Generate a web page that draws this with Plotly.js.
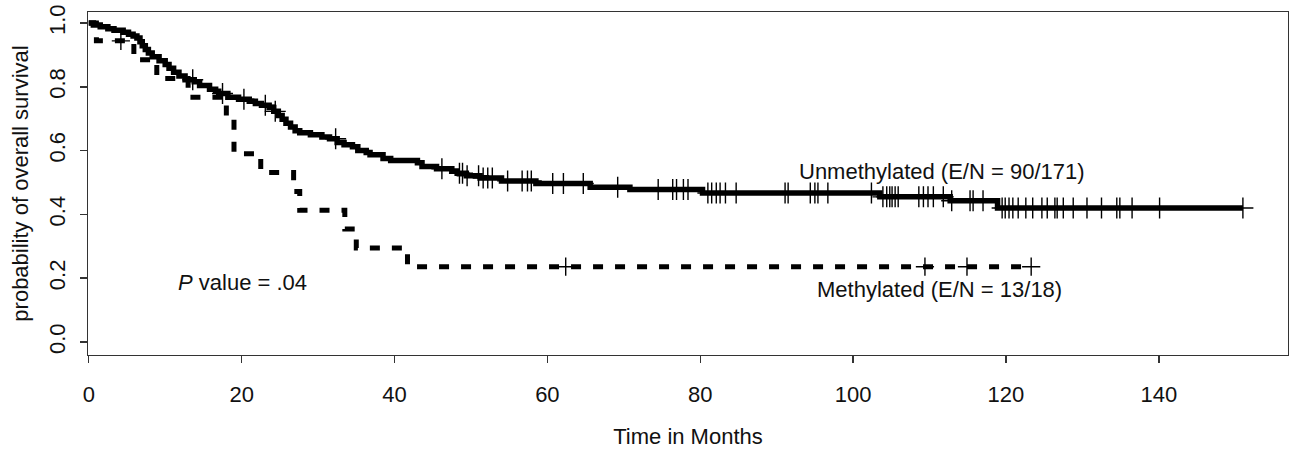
<!DOCTYPE html>
<html>
<head>
<meta charset="utf-8">
<script src="https://cdn.plot.ly/plotly-3.0.1.min.js"></script>
<style>html,body{margin:0;padding:0;background:#fff;}#chart{width:1289px;height:449px;}</style>
</head>
<body>
<div id="chart"></div>
<script>
// Unmethylated (solid) Kaplan-Meier steps
const unmethTime = [0,0.6,1.5,2.5,3.3,4.5,5.2,5.8,6.3,6.7,7.0,7.4,7.8,8.3,9.2,10.0,10.5,11.1,11.8,12.6,13.8,14.5,15.8,16.6,17.0,18.2,19.6,21.0,21.8,22.6,23.6,24.2,24.8,25.3,25.8,26.4,27.0,27.6,29.0,30.5,31.5,32.5,33.4,34.5,35.2,36.3,36.8,38.5,39.5,43.0,43.6,45.5,47.5,48.2,49.4,51.2,54.0,58.5,65.6,70.8,80.3,103.5,112.7,118.9,151.0];
const unmethSurv = [1.0,0.994,0.988,0.982,0.977,0.971,0.965,0.959,0.953,0.941,0.929,0.917,0.906,0.894,0.882,0.870,0.858,0.846,0.834,0.822,0.816,0.804,0.792,0.786,0.779,0.767,0.761,0.755,0.748,0.742,0.735,0.723,0.710,0.698,0.686,0.674,0.662,0.656,0.650,0.643,0.637,0.625,0.618,0.612,0.600,0.594,0.587,0.575,0.569,0.562,0.550,0.543,0.536,0.529,0.521,0.514,0.505,0.497,0.485,0.478,0.467,0.455,0.443,0.420,0.420];
const unmethCensor = [13.6,17.5,20.3,23.1,24.4,32.3,46.2,48.5,48.9,49.5,51.0,51.6,52.2,52.8,54.8,56.7,57.4,57.9,60.7,62.1,64.7,69.2,74.5,76.4,76.9,77.8,78.4,81.0,81.5,82.1,82.6,83.3,84.7,91.1,91.5,94.4,95.0,95.4,96.7,102.4,103.9,104.4,104.8,105.1,105.5,105.9,108.6,109.2,109.8,110.5,111.8,112.9,115.3,115.7,117.0,119.5,119.9,120.4,120.9,121.6,122.6,123.5,124.7,125.4,126.4,126.7,127.5,128.8,130.6,132.5,134.5,134.9,136.5,140.1,151.0];

// Methylated (dashed) steps
const methTime = [0,1.0,5.9,8.9,13.0,18.0,19.0,22.5,26.8,27.6,33.5,35.0,41.7,123.3];
const methSurv = [1.0,0.944,0.885,0.826,0.767,0.708,0.590,0.531,0.472,0.413,0.354,0.295,0.236,0.236];
const methCensor = [4.2,62.4,109.4,114.9,123.3];

const xTicks = [0,20,40,60,80,100,120,140];
const yTicks = [0,0.2,0.4,0.6,0.8,1.0];

function stepAt(times, surv, t){
  let s = surv[0];
  for(let i=0;i<times.length;i++){ if(times[i] <= t) s = surv[i]; }
  return s;
}

const traces = [
  {x: unmethTime, y: unmethSurv, mode:'lines', line:{shape:'hv', color:'#000', width:5.5}, hoverinfo:'skip', name:'Unmethylated'},
  {x: unmethCensor, y: unmethCensor.map(t=>stepAt(unmethTime, unmethSurv, t)), mode:'markers',
   marker:{symbol:'cross-thin', size:15, line:{color:'#000', width:1.4}}, hoverinfo:'skip', name:'censored'},
  {x: methTime, y: methSurv, mode:'lines', line:{shape:'hv', color:'#000', width:5, dash:'10px,12px'}, hoverinfo:'skip', name:'Methylated'},
  {x: methCensor, y: methCensor.map(t=>stepAt(methTime, methSurv, t)), mode:'markers',
   marker:{symbol:'cross-thin', size:13, line:{color:'#000', width:1.4}}, hoverinfo:'skip', name:'censored'}
];

const font = {family:'Liberation Sans, Arial, Helvetica, sans-serif', size:22, color:'#111'};

const layout = {
  width:1289, height:449,
  margin:{l:88, r:1, t:12, b:94},
  paper_bgcolor:'#fff', plot_bgcolor:'#fff',
  showlegend:false,
  font: font,
  xaxis:{
    range:[-0.1,156.9], tickvals:xTicks, ticktext:xTicks.map(String),
    ticks:'outside', ticklen:7, tickwidth:1.4, tickcolor:'#333',
    showline:true, linecolor:'#333', linewidth:1.4, mirror:true,
    showgrid:false, zeroline:false, ticklabelstandoff:12,
    tickfont:{family:font.family, size:22, color:'#111'},
    title:{text:'Time in Months', font:{family:font.family, size:22, color:'#111'}, standoff:23}
  },
  yaxis:{
    range:[-0.0408,1.0345], tickvals:yTicks, ticktext:yTicks.map(v=>v.toFixed(1)),
    tickangle:-90,
    ticks:'outside', ticklen:7, tickwidth:1.4, tickcolor:'#333',
    showline:true, linecolor:'#333', linewidth:1.4, mirror:true,
    showgrid:false, zeroline:false, ticklabelstandoff:6,
    tickfont:{family:font.family, size:22, color:'#111'},
    title:{text:'probability of overall survival', font:{family:font.family, size:22, color:'#111'}, standoff:10}
  },
  annotations:[
    {x:92.7, y:0.533, xref:'x', yref:'y', text:'Unmethylated (E/N = 90/171)', showarrow:false, xanchor:'left', yanchor:'middle', font:font},
    {x:95.0, y:0.166, xref:'x', yref:'y', text:'Methylated (E/N = 13/18)', showarrow:false, xanchor:'left', yanchor:'middle', font:font},
    {x:11.4, y:0.185, xref:'x', yref:'y', text:'<i>P</i> value = .04', showarrow:false, xanchor:'left', yanchor:'middle', font:font}
  ]
};

Plotly.newPlot('chart', traces, layout, {staticPlot:true, displayModeBar:false});
</script>
</body>
</html>
